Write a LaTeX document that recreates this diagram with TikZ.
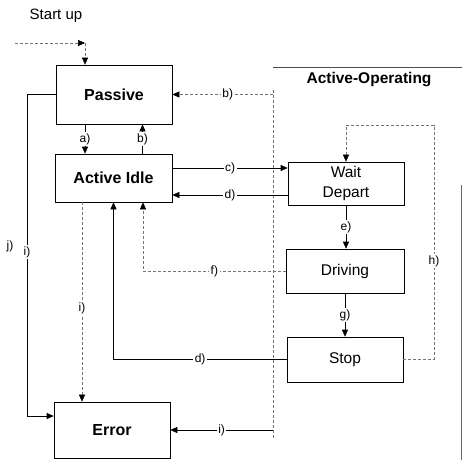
\documentclass[tikz,border=0pt]{standalone}
\usepackage{fontspec}
\setmainfont{Liberation Sans}
\usetikzlibrary{arrows.meta}

\begin{document}
\begin{tikzpicture}[
  x=1pt, y=-1pt,
  state/.style={
    draw, line width=0.6pt, inner sep=0pt,
    minimum width=116pt, align=center,
    font=\fontsize{15.5}{20}\selectfont
  },
  main/.style={state, font=\fontsize{16}{20}\selectfont\bfseries},
  flow/.style={line width=0.6pt, -{Triangle[length=7pt,width=6pt,color=black]}},
  faint/.style={black!55, densely dashed, line width=0.5pt},
  lbl/.style={fill=white, text=black, inner sep=1.5pt, font=\fontsize{12}{14}\selectfont}
]
  \clip (0,0) rectangle (462,460);
  \node[main, minimum height=59pt] (passive) at (114,94.5) {Passive};
  \node[main, minimum width=117pt, minimum height=48pt] (idle) at (113.5,178) {Active Idle};
  \node[state, minimum height=43pt] (wait) at (346,183.5) {Wait\\Depart};
  \node[state, minimum width=118pt, minimum height=44pt] (driving) at (345,271) {Driving};
  \node[state, minimum height=45pt] (stop) at (345,359.5) {Stop};
  \node[main, minimum height=56pt] (error) at (112,430) {Error};
  \node[font=\fontsize{15}{18}\selectfont] (startup) at (56,16) {Start up};
  \node[font=\fontsize{15.5}{18}\selectfont\bfseries] (oplabel) at (369,80) {Active-Operating};
  \node[lbl] (jlabel) at (10,246) {j)};

  \coordinate (start) at (15,43);
  \coordinate (bend) at (85,43);
  \coordinate (opleft) at (273,67);
  \coordinate (opright) at (462,67);
  \coordinate (hloop) at (434,125);
  \coordinate (leftline) at (27,95);

  \draw[black!70, line width=0.5pt] (opleft) -- (opright);
  \draw[faint] (273,90) -- (273,440);
  \draw[black!60, line width=0.8pt] (461,185) -- (461,460);

  \draw[flow, faint] (start) -- (bend);
  \draw[flow, faint] (bend) -- (bend |- passive.north);
  \draw[flow] ([xshift=-29pt]passive.south) -- ([xshift=-29pt]passive.south |- idle.north) node[lbl, midway]{a)};
  \draw[flow] ([xshift=29pt]idle.north) -- ([xshift=29pt]idle.north |- passive.south) node[lbl, midway]{b)};
  \draw[flow, faint] (opleft |- passive.east) -- (passive.east) node[lbl, pos=0.45]{b)};
  \draw[flow] ([yshift=10pt]idle.east) -- ([yshift=10pt]idle.east -| wait.west) node[lbl, midway]{c)};
  \draw[flow] ([yshift=-17pt]idle.east -| wait.west) -- ([yshift=-17pt]idle.east) node[lbl, midway]{d)};
  \draw[flow] (wait.south) -- (wait.south |- driving.north) node[lbl, midway]{e)};
  \draw[flow] (driving.south) -- (stop.north) node[lbl, midway]{g)};
  \draw[flow, faint] (driving.west) -| ([xshift=29.5pt]idle.south) node[lbl, pos=0.25]{f)};
  \draw[flow] (stop.west) -| (idle.south) node[lbl, pos=0.25]{d)};
  \draw[flow, faint] (stop.east) -- (stop.east -| hloop) -- node[lbl, pos=0.42]{h)} (hloop) -- (hloop -| wait.north) -- (wait.north);
  \draw[flow] (passive.west) -- (passive.west -| leftline) -- node[lbl, pos=0.49]{i)} ([yshift=14pt]error.west -| leftline) -- ([yshift=14pt]error.west);
  \draw[flow, faint] ([xshift=-31.5pt]idle.south) -- ([xshift=-31.5pt]idle.south |- error.north) node[lbl, pos=0.53]{i)};
  \draw[flow] (opleft |- error.east) -- (error.east) node[lbl, midway]{i)};
\end{tikzpicture}
\end{document}
